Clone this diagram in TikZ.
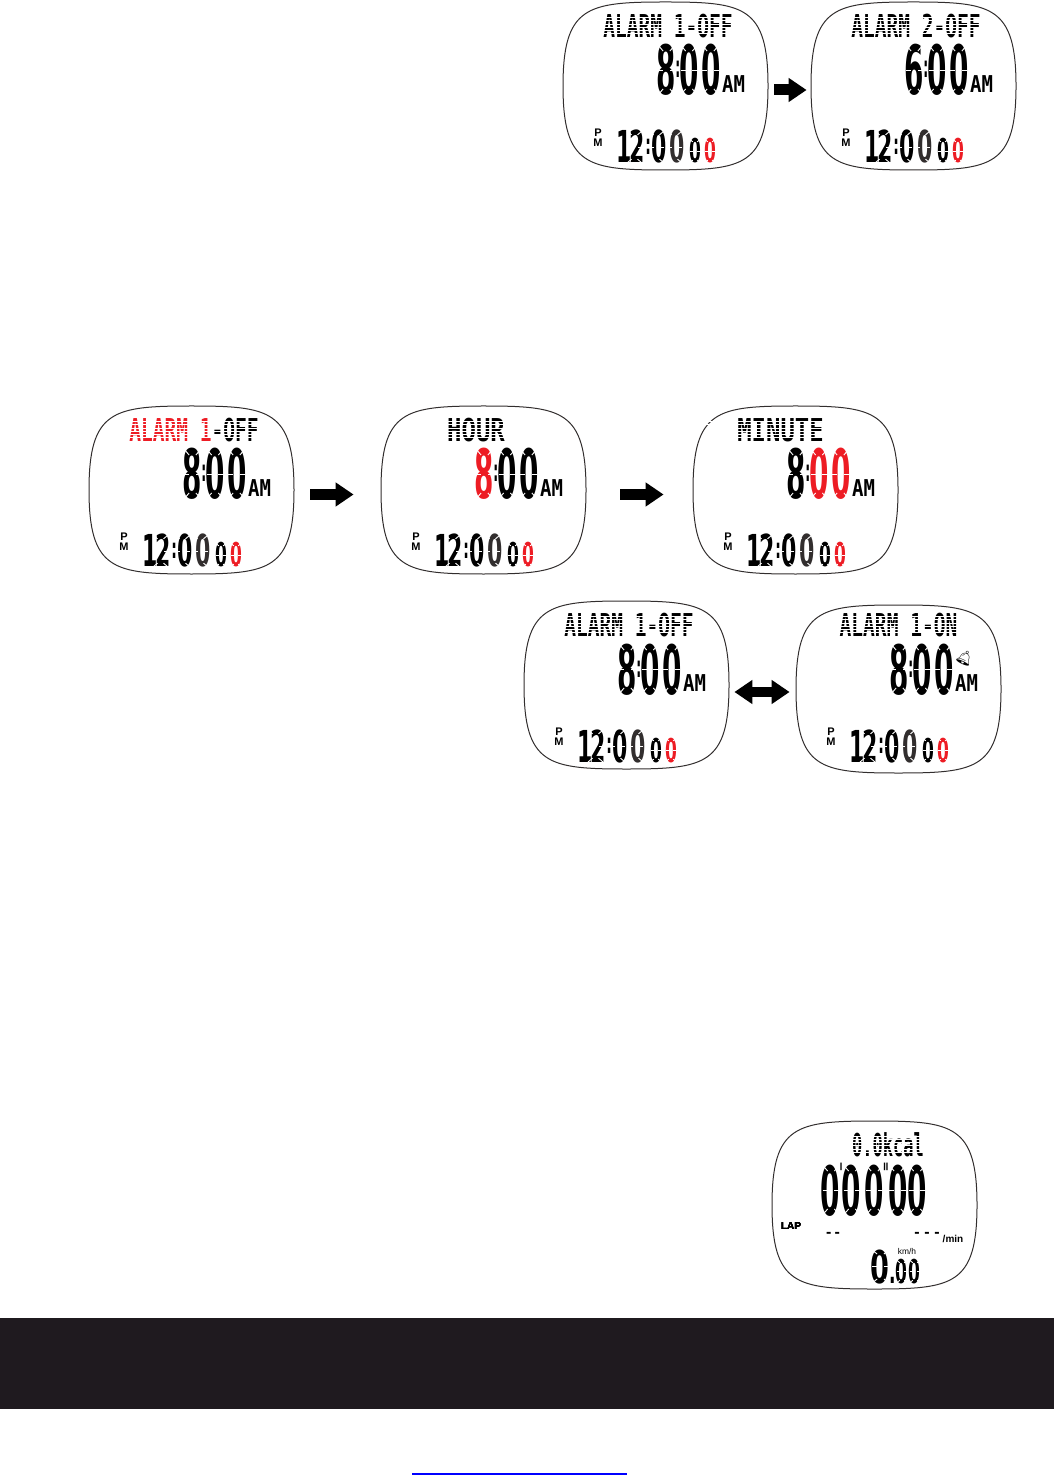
\documentclass[tikz,border=0pt]{standalone}
\usepackage{fontspec}
\usetikzlibrary{arrows.meta,positioning}
\newfontfamily\lcdtitlefont[FakeStretch=.62]{DejaVu Sans Mono}
\newfontfamily\lcdwidefont[FakeStretch=.76]{DejaVu Sans Mono}
\newfontfamily\lcdkcalfont[FakeStretch=.54]{DejaVu Sans Mono}
\newfontfamily\lcdamfont[FakeStretch=.82]{DejaVu Sans Mono}
\newfontfamily\lcdbigfont[FakeStretch=.41]{DejaVu Sans}
\newfontfamily\lcdsmallfont[FakeStretch=.5]{DejaVu Sans}
\newfontfamily\lcdsecfont[FakeStretch=.52]{DejaVu Sans}
\newfontfamily\lcdspeedfont[FakeStretch=.6]{DejaVu Sans}
\newfontfamily\labelfont{Liberation Sans}
\newfontfamily\bellfont{Noto Emoji}
\definecolor{lcdred}{RGB}{237,28,36}
\definecolor{lcdgrey}{RGB}{50,46,46}
\definecolor{bandblack}{RGB}{31,26,31}
\definecolor{linkblue}{RGB}{0,0,255}
\newcommand{\bigcolon}{\kern-.45pt\raisebox{8.5pt}{\fontsize{15}{15}\selectfont:}\kern-.45pt}
\newcommand{\smallcolon}{\kern.27pt\raisebox{4.2pt}{\fontsize{14}{14}\selectfont:}\kern.27pt}
\newcommand{\widetitle}[1]{{\lcdwidefont\bfseries\fontsize{15.75}{16}\selectfont #1}}
% white breaks that split one digit into segments
\newcommand{\lcdcuts}[4]{%
  \draw[cut] (#1-#3/2,#2-#4/2) -- ++(#3*.3,#4*.12);
  \draw[cut] (#1+#3/2,#2-#4/2) -- ++(-#3*.3,#4*.12);
  \draw[cut] (#1-#3/2,#2+#4/2) -- ++(#3*.3,-#4*.12);
  \draw[cut] (#1+#3/2,#2+#4/2) -- ++(-#3*.3,-#4*.12);
  \draw[cut] (#1-#3/2,#2) -- ++(#3*.3,0);
  \draw[cut] (#1+#3/2,#2) -- ++(-#3*.3,0);
}
% horizontal gaps that give the dot matrix look
\newcommand{\dotrows}[3]{%
  \foreach \rowy in {-9,-5.8,...,10}
    \draw[cut, line width=.3pt] (#1,#3+\rowy) -- (#2,#3+\rowy);
}
\newcommand{\faceline}{%
  \draw[faceline] (-102.5,0) .. controls (-102.5,-80) and (-78,-84) .. (0,-84)
    .. controls (78,-84) and (102.5,-80) .. (102.5,0)
    .. controls (102.5,80) and (78,84) .. (0,84)
    .. controls (-78,84) and (-102.5,80) .. (-102.5,0) -- cycle;
}
% name, x, y, outline drop, title shift, title, three time digits
\newcommand{\alarmwatch}[9]{%
  \node[face] (#1) at (#2,#3+#4) {};
  \begin{scope}[shift={(#2,#3+#4)}] \faceline \end{scope}
  \begin{scope}[shift={(#2,#3)}]
    \node[titletext] (#1t) at (2.5+#5,-59.5) {#6};
    \dotrows{-72+#5}{77+#5}{-59.5}
    \node[bigtext] (#1c) at (-9,9) {#7\bigcolon#8\kern1.3pt#9};
    \lcdcuts{1}{-16}{17}{50} \lcdcuts{23.5}{-16}{17}{50} \lcdcuts{45}{-16}{17}{50}
    \node[amtext] (#1a) at (68,-1.5) {AM};
    \node[pmtext] (#1p) at (-67.5,52) {P\\M};
    \node[smalltext] (#1s) at (-49,77) {1\kern-1.4pt2\smallcolon0\kern1.34pt\textcolor{lcdgrey}{0}};
    \lcdcuts{-31}{61}{15}{32} \lcdcuts{-9}{61}{15}{32} \lcdcuts{9}{61}{15}{32}
    \node[sectext] (#1e) at (23.5,77) {0\kern1.57pt\textcolor{lcdred}{0}};
    \lcdcuts{29.5}{65}{11}{24} \lcdcuts{44.5}{65}{11}{24}
  \end{scope}
}
\begin{document}
\begin{tikzpicture}[x=.5pt,y=-.5pt,
  face/.style={minimum width=102.5pt, minimum height=84pt, inner sep=0pt},
  faceline/.style={draw=lcdgrey, line width=.5pt},
  cut/.style={draw=white, line width=.45pt},
  titletext/.style={font=\lcdtitlefont\bfseries\fontsize{15.75}{16}\selectfont, inner sep=0pt},
  amtext/.style={font=\lcdamfont\bfseries\fontsize{11.6}{12}\selectfont, inner sep=0pt},
  pmtext/.style={font=\labelfont\bfseries\fontsize{5.5}{5}\selectfont, align=center, inner sep=0pt},
  bigtext/.style={font=\lcdbigfont\bfseries\fontsize{34}{34}\selectfont, anchor=base west, inner sep=0pt},
  smalltext/.style={font=\lcdsmallfont\bfseries\fontsize{22}{22}\selectfont, anchor=base west, inner sep=0pt},
  sectext/.style={font=\lcdsecfont\bfseries\fontsize{16.4}{17}\selectfont, anchor=base west, inner sep=0pt},
  dashtext/.style={font=\labelfont\bfseries\fontsize{8}{8}\selectfont, inner sep=0pt},
  blockarrow/.style={draw=black, line width=5.5pt, -{Triangle[length=9pt,width=11.5pt]}},
  blockboth/.style={draw=black, line width=5pt, {Triangle[length=9pt,width=11.5pt]}-{Triangle[length=9pt,width=11.5pt]}}
]
  \useasboundingbox (0,0) rectangle (1054,1475);

  %% Alarm select
  \alarmwatch{wa}{665.5}{86}{0}{0}{ALARM 1-OFF}{8}{0}{0}
  \alarmwatch{wb}{913.5}{86}{0}{0}{ALARM 2-OFF}{6}{0}{0}
  \draw[blockarrow, shorten <=3pt, shorten >=2pt] ([yshift=-2pt]wa.east) -- ([yshift=-2pt]wb.west);

  %% Alarm set
  \alarmwatch{wc}{191.5}{490}{0}{0}{\textcolor{lcdred}{ALARM 1}-OFF}{8}{0}{0}
  \alarmwatch{wd}{483.5}{490}{0}{-10}{\widetitle{HOUR}}{\textcolor{lcdred}{8}}{0}{0}
  \alarmwatch{we}{795.5}{490}{0}{-17.5}{\widetitle{MINUTE}}{8}{\textcolor{lcdred}{0}}{\textcolor{lcdred}{0}}
  \draw[blockarrow, shorten <=8pt, shorten >=13.5pt] ([yshift=-2.25pt]wc.east) -- ([yshift=-2.25pt]wd.west);
  \draw[blockarrow, shorten <=17pt, shorten >=14.5pt] ([yshift=-2.25pt]wd.east) -- ([yshift=-2.25pt]we.west);

  %% Alarm on / off
  \alarmwatch{wf}{626.5}{685}{0}{0}{ALARM 1-OFF}{8}{0}{0}
  \alarmwatch{wg}{898.5}{685}{4}{-2.5}{ALARM 1-ON}{8}{0}{0}
  \node[font=\bellfont\fontsize{7}{8}\selectfont, rotate=-25, inner sep=0pt] (bell) at (965,658) {🔔};
  \draw[blockboth, shorten <=2.5pt, shorten >=3pt] ([yshift=-3.5pt]wf.east) -- ([yshift=-1.5pt]wg.west);

  %% Lap screen
  \node[face] (wh) at (874.5,1205) {};
  \begin{scope}[shift={(874.5,1205)}] \faceline \end{scope}
  \node[font=\lcdkcalfont\bfseries\fontsize{15.75}{16}\selectfont, inner sep=0pt] (kcal) at (888,1145) {0.0kcal};
  \dotrows{848}{928}{1145}
  \node[bigtext] (lap) at (820.5,1215) {0\kern-.48pt\raisebox{15.8pt}{\fontsize{14}{14}\selectfont'}\kern-.48pt0\kern1.55pt0\kern-.42pt\raisebox{15.8pt}{\fontsize{14}{14}\selectfont"}\kern-.42pt0\kern.05pt0};
  \foreach \digitx in {831,852,874.5,897.5,917}
    \lcdcuts{\digitx}{1190}{17}{50}
  \node[font=\labelfont\bfseries\fontsize{5}{5}\selectfont, inner sep=0pt] (laplabel) at (791,1226) {LAP};
  \node[dashtext] (dasha) at (833,1235) {-\kern1.6pt-};
  \node[dashtext] (dashb) at (927,1235) {-\kern2.3pt-\kern2.3pt-};
  \node[font=\labelfont\bfseries\fontsize{5}{5}\selectfont, inner sep=0pt] (permin) at (953,1239) {/min};
  \node[font=\labelfont\fontsize{4.2}{5}\selectfont, inner sep=0pt] (kmh) at (907,1251) {km/h};
  \node[font=\lcdspeedfont\bfseries\fontsize{22.6}{23}\selectfont, anchor=base west, inner sep=0pt] (speed) at (870.5,1283) {0};
  \lcdcuts{880.5}{1266.5}{17}{33}
  \node[sectext] (speedb) at (889,1283) {.0\kern.57pt0};
  \lcdcuts{902}{1271.5}{11}{23} \lcdcuts{915}{1271.5}{11}{23}

  %% Band and link at the foot
  \fill[bandblack] (0,1318) rectangle (1054,1409);
  \fill[linkblue] (412,1473) rectangle (627,1475);
\end{tikzpicture}
\end{document}
